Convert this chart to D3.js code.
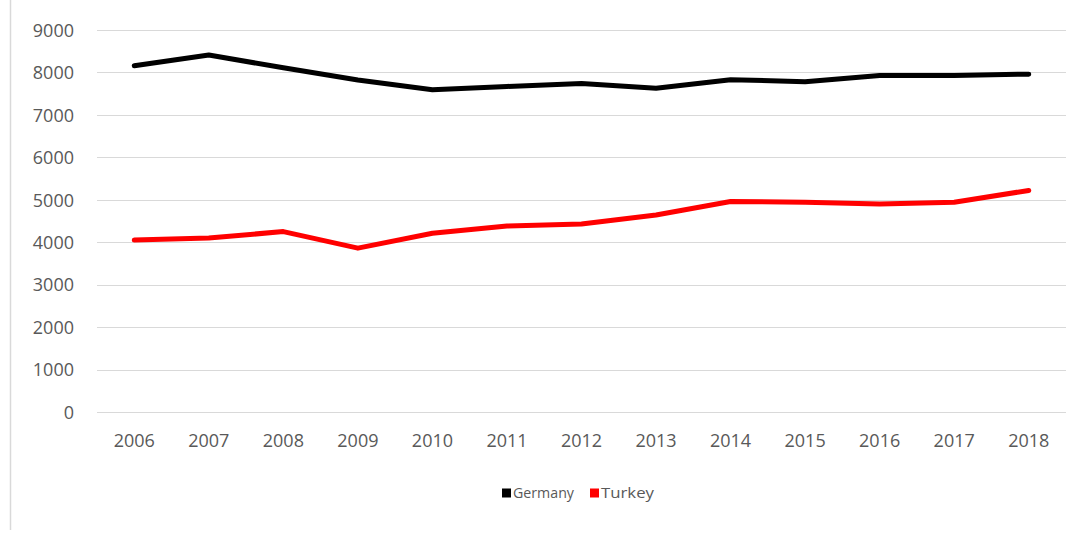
<!DOCTYPE html>
<html>
<head>
<meta charset="utf-8">
<script src="https://cdn.jsdelivr.net/npm/d3@7"></script>
<style>
  html, body { margin: 0; padding: 0; background: #fff; }
  svg { display: block; font-family: "Open Sans", "Liberation Sans", sans-serif; }
</style>
</head>
<body>
<svg id="chart" width="1086" height="533"></svg>
<script>
// Years on the category axis
const years = ["2006","2007","2008","2009","2010","2011","2012","2013","2014","2015","2016","2017","2018"];
// Series values
const germany = [8160, 8410, 8110, 7820, 7590, 7670, 7740, 7630, 7830, 7780, 7930, 7930, 7960];
const turkey  = [4050, 4100, 4250, 3860, 4210, 4380, 4430, 4640, 4960, 4940, 4900, 4940, 5220];
// Value axis ticks
const yTicks = [0, 1000, 2000, 3000, 4000, 5000, 6000, 7000, 8000, 9000];

const series = [
  { name: "Germany", values: germany, color: "#000000" },
  { name: "Turkey",  values: turkey,  color: "#ff0000" }
];

const svg = d3.select("#chart");
const plot = { left: 97, right: 1066, top: 30, bottom: 412 };

// Outer frame edge on the left
svg.append("line")
  .attr("x1", 10.5).attr("x2", 10.5)
  .attr("y1", 0).attr("y2", 530)
  .attr("stroke", "#d9d9d9").attr("stroke-width", 1.5);

const x = d3.scaleBand().domain(years).range([plot.left, plot.right]);
const y = d3.scaleLinear().domain([0, 9000]).range([plot.bottom, plot.top]);

// Horizontal gridlines
svg.append("g").selectAll("line").data(yTicks).join("line")
  .attr("x1", plot.left).attr("x2", plot.right)
  .attr("y1", d => Math.round(y(d)) + 0.5).attr("y2", d => Math.round(y(d)) + 0.5)
  .attr("stroke", "#d9d9d9").attr("stroke-width", 1.2);

// Value axis labels
const yAxis = d3.axisLeft(y).tickValues(yTicks).tickSize(0).tickPadding(0).tickFormat(d3.format("d"));
const gy = svg.append("g").attr("transform", "translate(74,0)").call(yAxis);
gy.select(".domain").remove();
gy.selectAll("text").attr("fill", "#595959").attr("font-size", 18).attr("dy", "0.35em")
  .attr("font-family", "'Open Sans', sans-serif");

// Category axis labels
const xAxis = d3.axisBottom(x).tickSize(0).tickPadding(0);
const gx = svg.append("g").attr("transform", "translate(0,441)").call(xAxis);
gx.select(".domain").remove();
gx.selectAll("text").attr("fill", "#595959").attr("font-size", 18).attr("dy", "0.35em")
  .attr("font-family", "'Open Sans', sans-serif");

// Lines
const line = d3.line()
  .x((d, i) => x(years[i]) + x.bandwidth() / 2)
  .y(d => y(d));

svg.append("g").selectAll("path").data(series).join("path")
  .attr("d", d => line(d.values))
  .attr("fill", "none")
  .attr("stroke", d => d.color)
  .attr("stroke-width", 5)
  .attr("stroke-linejoin", "round")
  .attr("stroke-linecap", "round");

// Legend
const legend = svg.append("g").attr("transform", "translate(502,493)");
const legendX = [0, 88];
const items = legend.selectAll("g").data(series).join("g")
  .attr("transform", (d, i) => `translate(${legendX[i]},0)`);
items.append("rect")
  .attr("x", 0).attr("y", -4.5).attr("width", 9).attr("height", 9)
  .attr("fill", d => d.color);
items.append("text")
  .attr("x", 11).attr("y", 0).attr("dy", "0.35em")
  .attr("font-size", 14)
  .attr("font-family", "'Open Sans', sans-serif")
  .attr("fill", "#595959")
  .attr("textLength", (d, i) => i === 0 ? 61 : 53)
  .attr("lengthAdjust", "spacingAndGlyphs")
  .text(d => d.name);
</script>
</body>
</html>
